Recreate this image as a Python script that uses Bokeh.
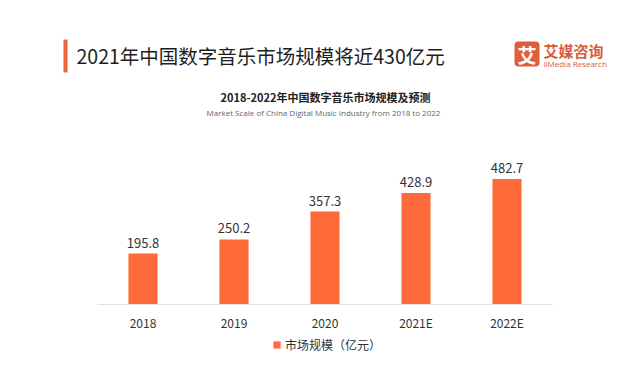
from bokeh.plotting import figure
from bokeh.models import (ColumnDataSource, Range1d, LabelSet, Label, FixedTicker,
                          BoxAnnotation, Legend, LegendItem)
from bokeh.core.properties import value
from bokeh.embed import file_html
from bokeh.resources import INLINE

# ---- data ----
years = ["2018", "2019", "2020", "2021E", "2022E"]
market_size = [195.8, 250.2, 357.3, 428.9, 482.7]
value_labels = ["195.8", "250.2", "357.3", "428.9", "482.7"]
series_name = "市场规模（亿元）"
main_title = "2021年中国数字音乐市场规模将近430亿元"
sub_title_cn = "2018-2022年中国数字音乐市场规模及预测"
sub_title_en = "Market Scale of China Digital Music Industry from 2018 to 2022"
logo_cn = "艾媒咨询"
logo_en = "iiMedia Research"
logo_mark = "艾"

BAR = "#FF6A3B"
CJK = "Noto Sans CJK SC"

pos = list(range(len(years)))
src = ColumnDataSource(dict(x=pos, value=market_size, label=value_labels))

W, H = 640, 383
BASE = 304        # pixel y of value 0
PX_PER_UNIT = 0.26
y_end = BASE / PX_PER_UNIT
y_start = -(H - BASE) / PX_PER_UNIT
X0, STEP = 142.5, 91.0
x_start = -X0 / STEP
x_end = (W - X0) / STEP

p = figure(width=W, height=H, x_range=Range1d(x_start, x_end),
           y_range=Range1d(y_start, y_end), output_backend="svg", toolbar_location=None,
           title=None, y_axis_location=None, min_border_left=0, min_border_right=0,
           min_border_top=0, min_border_bottom=0)
p.outline_line_color = None
p.xgrid.visible = False
p.ygrid.visible = False
p.background_fill_color = "white"
p.border_fill_color = "white"

r = p.vbar(x="x", top="value", width=0.32, source=src, fill_color=BAR, line_color=None)

ax = p.xaxis[0]
ax.fixed_location = 0
ax.bounds = (pos[0] - 0.5, pos[-1] + 0.5)
ax.ticker = FixedTicker(ticks=pos)
ax.major_label_overrides = {i: y for i, y in zip(pos, years)}
ax.axis_line_color = "#e2e2e2"
ax.axis_line_width = 1
ax.major_tick_line_color = None
ax.minor_tick_line_color = None
ax.major_label_standoff = 3
ax.major_label_text_font = CJK
ax.major_label_text_font_size = "12px"
ax.major_label_text_color = "#333333"

labels = LabelSet(x="x", y="value", text="label", source=src, text_align="center",
                  text_baseline="bottom", y_offset=6, text_font=value(CJK),
                  text_font_size=value("13px"), text_color="#333333")
p.add_layout(labels)

def sx(px):
    return px

def sy(py):
    return H - py

legend = Legend(items=[LegendItem(label=series_name, renderers=[r])],
                location=(sx(272), sy(353)),
                orientation="horizontal", glyph_width=9, glyph_height=9, label_standoff=4,
                padding=0, margin=0, label_height=14, spacing=0,
                label_text_font=CJK, label_text_font_size="12px",
                label_text_color="#333333", border_line_color=None,
                background_fill_alpha=0)
p.add_layout(legend, "center")

p.add_layout(BoxAnnotation(left=sx(63), right=sx(67), top=sy(39), bottom=sy(72),
                           left_units="screen", right_units="screen", top_units="screen",
                           bottom_units="screen", fill_color="#E8663D", fill_alpha=1,
                           line_color=None, level="underlay"))
p.add_layout(Label(x=sx(76), y=sy(55), x_units="screen", y_units="screen", text=main_title,
                   text_font=CJK, text_font_size="19.5px", text_color="#1e1e1e",
                   text_baseline="middle", text_align="left"))

p.add_layout(BoxAnnotation(left=sx(514), right=sx(539), top=sy(41), bottom=sy(66),
                           left_units="screen", right_units="screen", top_units="screen",
                           bottom_units="screen", fill_color="#DF5F3A", fill_alpha=1,
                           line_color=None, border_radius=4, level="underlay"))
p.add_layout(Label(x=sx(526.5), y=sy(53.5), x_units="screen", y_units="screen", text=logo_mark,
                   text_font=CJK, text_font_size="19px", text_font_style="bold",
                   text_color="white", text_baseline="middle", text_align="center",
                   level="overlay"))
p.add_layout(Label(x=sx(543), y=sy(50), x_units="screen", y_units="screen", text=logo_cn,
                   text_font=CJK, text_font_size="15px", text_font_style="bold",
                   text_color="#D9593C", text_baseline="middle", text_align="left"))
p.add_layout(Label(x=sx(543), y=sy(63), x_units="screen", y_units="screen", text=logo_en,
                   text_font="Open Sans", text_font_size="8px",
                   text_color="#D9593C", text_baseline="middle", text_align="left"))

p.add_layout(Label(x=sx(325), y=sy(96), x_units="screen", y_units="screen", text=sub_title_cn,
                   text_font=CJK, text_font_size="11px", text_font_style="bold",
                   text_color="#222222", text_baseline="middle", text_align="center"))
p.add_layout(Label(x=sx(323), y=sy(112), x_units="screen", y_units="screen", text=sub_title_en,
                   text_font="Open Sans", text_font_size="8px",
                   text_color="#666666", text_baseline="middle", text_align="center"))

open("out.html", "w").write(file_html(p, INLINE))
